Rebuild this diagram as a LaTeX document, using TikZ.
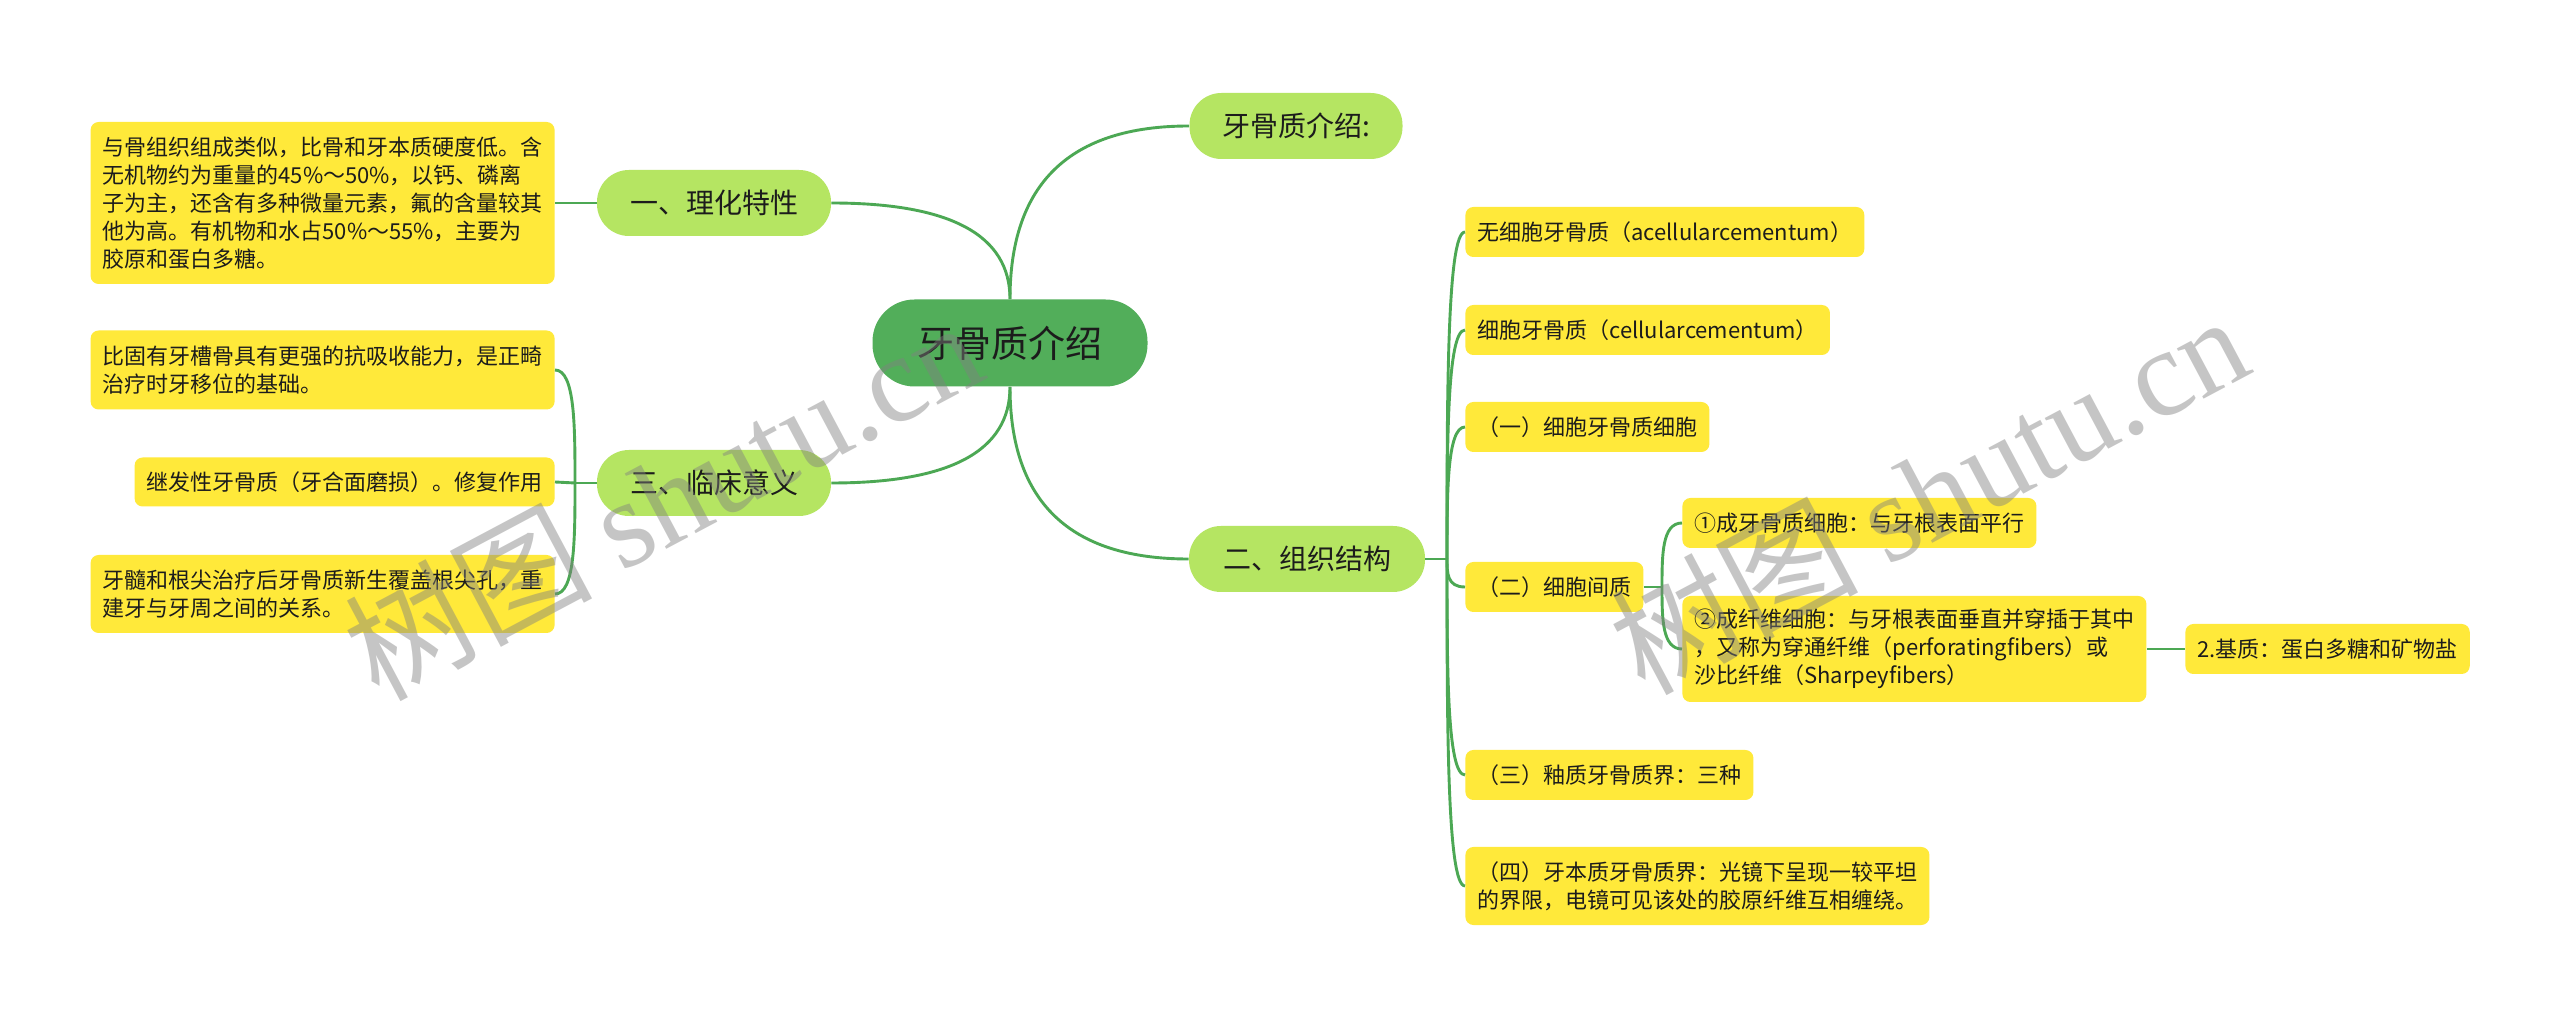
\documentclass[tikz,border=0pt]{standalone}
\usepackage{fontspec}
\setmainfont{Noto Sans CJK SC}
\newfontfamily\wmlatin{Liberation Serif}
\usetikzlibrary{calc}
\definecolor{lineg}{HTML}{4CA854}
\definecolor{rootg}{HTML}{52AE5A}
\definecolor{lightg}{HTML}{B5E562}
\definecolor{yel}{HTML}{FFE93A}
\definecolor{txt}{HTML}{1C1C1C}
\definecolor{wm}{HTML}{808080}
\begin{document}
\begin{tikzpicture}[x=0.5pt,y=-0.5pt,
 conn/.style={draw=lineg, line width=1.45pt},
 rootnode/.style={fill=rootg, rounded corners=21pt, minimum width=137.5pt, minimum height=43.5pt, font=\fontsize{18.5}{22}\selectfont, text=txt, inner sep=0pt},
 topic/.style={fill=lightg, rounded corners=16pt, minimum height=33pt, font=\fontsize{14}{17}\selectfont, text=txt, inner sep=0pt},
 leaf/.style={fill=yel, rounded corners=4pt, font=\fontsize{11}{14}\selectfont, text=txt, align=left, inner xsep=6pt, inner ysep=0pt, minimum height=25pt},
 rc/.style={to path={.. controls ($(\tikztostart)!0.667!(\tikztostart |- \tikztotarget)$) and ($(\tikztotarget)!0.667!(\tikztostart |- \tikztotarget)$) .. (\tikztotarget)}},
 brc/.style={to path={.. controls ($(\tikztostart)!0.5!(\tikztostart |- \tikztotarget)$) and (\tikztostart |- \tikztotarget) .. (\tikztotarget)}},
 wmark/.style={rotate=28, text=wm, opacity=0.45, font=\fontsize{62}{64}\selectfont, inner sep=0pt}
]
\useasboundingbox (0,0) rectangle (2560,1020);
\fill[white] (0,0) rectangle (2560,1020);

% main nodes
\node[rootnode] (root) at (1010,343) {牙骨质介绍};
\node[topic, minimum width=106.5pt] (t0) at (1296,126) {牙骨质介绍:};
\node[topic, minimum width=117pt] (t1) at (714,203) {一、理化特性};
\node[topic, minimum width=117pt] (t3) at (714,483) {三、临床意义};
\node[topic, minimum width=118pt] (t2) at (1307,559) {二、组织结构};

% left leaves
\node[leaf, anchor=east, minimum height=81pt] (l1) at (555,203) {与骨组织组成类似，比骨和牙本质硬度低。含\\无机物约为重量的45\%～50\%，以钙、磷离\\子为主，还含有多种微量元素，氟的含量较其\\他为高。有机物和水占50\%～55\%，主要为\\胶原和蛋白多糖。};
\node[leaf, anchor=east, minimum height=39.5pt] (l2) at (555,370) {比固有牙槽骨具有更强的抗吸收能力，是正畸\\治疗时牙移位的基础。};
\node[leaf, anchor=east, minimum height=24.5pt] (l3) at (555,482) {继发性牙骨质（牙合面磨损）。修复作用};
\node[leaf, anchor=east, minimum height=39pt] (l4) at (555,594) {牙髓和根尖治疗后牙骨质新生覆盖根尖孔，重\\建牙与牙周之间的关系。};

% right leaves
\node[leaf, anchor=west] (a1) at (1465,232) {无细胞牙骨质（acellularcementum）};
\node[leaf, anchor=west] (a2) at (1465,330) {细胞牙骨质（cellularcementum）};
\node[leaf, anchor=west] (a3) at (1465,427) {（一）细胞牙骨质细胞};
\node[leaf, anchor=west] (a4) at (1465,587) {（二）细胞间质};
\node[leaf, anchor=west] (a5) at (1465,775) {（三）釉质牙骨质界：三种};
\node[leaf, anchor=west, minimum height=39pt] (a6) at (1465,886) {（四）牙本质牙骨质界：光镜下呈现一较平坦\\的界限，电镜可见该处的胶原纤维互相缠绕。};
\node[leaf, anchor=west] (b1) at (1682,523) {①成牙骨质细胞：与牙根表面平行};
\node[leaf, anchor=west, minimum height=53pt] (b2) at (1682,649) {②成纤维细胞：与牙根表面垂直并穿插于其中\\，又称为穿通纤维（perforatingfibers）或\\沙比纤维（Sharpeyfibers）};
\node[leaf, anchor=west] (c1) at (2185,649) {2.基质：蛋白多糖和矿物盐};

% junctions
\coordinate (j2) at (1447,559);
\coordinate (j3) at (575,483);
\coordinate (j4) at (1662,587);

% connectors
\draw[conn] (root.north) to[rc] (t0.west);
\draw[conn] (root.north) to[rc] (t1.east);
\draw[conn] (root.south) to[rc] (t3.east);
\draw[conn] (root.south) to[rc] (t2.west);

\draw[conn] (t1.west) -- (l1.east);
\draw[conn] (t3.west) -- (j3);
\draw[conn] (j3) to[brc] (l2.east);
\draw[conn] (j3) -- (l3.east);
\draw[conn] (j3) to[brc] (l4.east);

\draw[conn] (t2.east) -- (j2);
\draw[conn] (j2) to[brc] (a1.west);
\draw[conn] (j2) to[brc] (a2.west);
\draw[conn] (j2) to[brc] (a3.west);
\draw[conn] (j2) to[brc] (a4.west);
\draw[conn] (j2) to[brc] (a5.west);
\draw[conn] (j2) to[brc] (a6.west);

\draw[conn] (a4.east) -- (j4);
\draw[conn] (j4) to[brc] (b1.west);
\draw[conn] (j4) to[brc] (b2.west);
\draw[conn] (b2.east) -- (c1.west);

% watermarks
\node[wmark] (wm1) at (662,498) {树图 {\wmlatin shutu.cn}};
\node[wmark] (wm2) at (1928,492) {树图 {\wmlatin shutu.cn}};
\end{tikzpicture}
\end{document}
